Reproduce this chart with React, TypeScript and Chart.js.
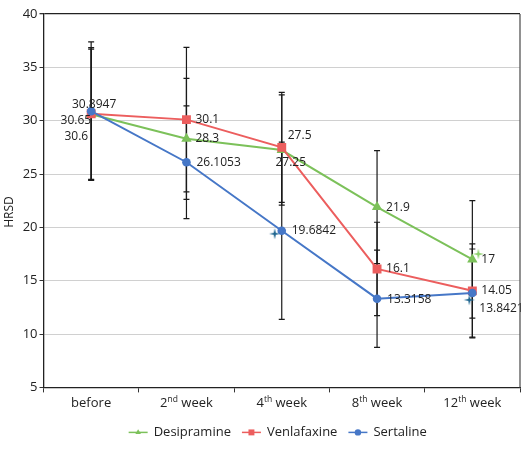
import React, { useEffect, useRef } from "react";
import { Chart } from "chart.js/auto";
import { drawPoint } from "chart.js/helpers";

const categories = ["before", "2nd week", "4th week", "8th week", "12th week"];
const desipramine = [30.6, 28.3, 27.25, 21.9, 17];
const venlafaxine = [30.65, 30.1, 27.5, 16.1, 14.05];
const sertaline = [30.8947, 26.1053, 19.6842, 13.3158, 13.8421];
const desipramineErr = [6.1, 5.67, 5.16, 5.29, 5.5];
const venlafaxineErr = [6.2, 6.78, 5.16, 4.38, 4.4];
const sertalineErr = [6.5, 5.28, 8.3, 4.56, 4.13];
// stray star markers left in the original figure
const strayTeal = [null, null, 19.4, null, 13.2];
const strayGreen = [null, null, null, null, 17.5];

const FONT = "'Open Sans', 'Noto Sans', sans-serif";
const GREEN = "#7CC15A";
const RED = "#EC5E5E";
const BLUE = "#4677C7";

// label placement per point: [dx, dy, align]
const desipLabelPos: [number, number, CanvasTextAlign][] = [
  [-3, 22, "right"], [9, 0, "left"], [9, 13, "center"], [9, 0, "left"], [9, 0, "left"],
];
const venlLabelPos: [number, number, CanvasTextAlign][] = [
  [0, 7, "right"], [9, 0, "left"], [6, -12, "left"], [9, 0, "left"], [9, 0, "left"],
];
const sertLabelPos: [number, number, CanvasTextAlign][] = [
  [3, -7, "center"], [10, 0, "left"], [10, 0, "left"], [10, 1, "left"], [7, 16, "left"],
];

function starImage(color: string, dx: number) {
  const c = document.createElement("canvas");
  c.width = 30;
  c.height = 30;
  const g = c.getContext("2d")!;
  const cx = 15 + dx, cy = 15;
  g.beginPath();
  for (let k = 0; k < 8; k++) {
    const a = (k * Math.PI) / 4 - Math.PI / 2;
    const r = k % 2 === 0 ? 5.6 : 1.5;
    g.lineTo(cx + r * Math.cos(a), cy + r * Math.sin(a));
  }
  g.closePath();
  g.fillStyle = color;
  g.fill();
  return c;
}

const App: React.FC = () => {
  const canvasRef = useRef<HTMLCanvasElement | null>(null);
  const chartRef = useRef<Chart | null>(null);

  useEffect(() => {
    document.body.style.margin = "0";
    const ctx = canvasRef.current?.getContext("2d");
    if (!ctx) return;
    if (chartRef.current) chartRef.current.destroy();

    const series = [
      { label: "Desipramine", data: desipramine, err: desipramineErr, color: GREEN, style: "triangle", pos: desipLabelPos },
      { label: "Venlafaxine", data: venlafaxine, err: venlafaxineErr, color: RED, style: "rect", pos: venlLabelPos },
      { label: "Sertaline", data: sertaline, err: sertalineErr, color: BLUE, style: "circle", pos: sertLabelPos },
    ];
    const radii: Record<string, number> = { triangle: 6, rect: 6.3, circle: 4.3 };

    const tealStars = [null, null, starImage("#1F6690", -7), null, starImage("#1F6690", -3)];
    const greenStars = [null, null, null, null, starImage("#8AD06A", 6)];

    const errorBars = {
      id: "errorBars",
      beforeDatasetsDraw(chart: any) {
        const xs = chart.scales.x, ys = chart.scales.y;
        const c = chart.ctx;
        c.save();
        c.strokeStyle = "#1a1a1a";
        c.lineWidth = 1.2;
        series.forEach((s) => {
          s.data.forEach((v, i) => {
            const x = xs.getPixelForValue(i);
            const t = ys.getPixelForValue(v + s.err[i]);
            const b = ys.getPixelForValue(v - s.err[i]);
            c.beginPath();
            c.moveTo(x, t); c.lineTo(x, b);
            c.moveTo(x - 3, t); c.lineTo(x + 3, t);
            c.moveTo(x - 3, b); c.lineTo(x + 3, b);
            c.stroke();
          });
        });
        c.restore();
      },
    };

    const decorations = {
      id: "decorations",
      afterDatasetsDraw(chart: any) {
        const xs = chart.scales.x, ys = chart.scales.y;
        const c = chart.ctx;
        c.save();
        c.font = `12px ${FONT}`;
        c.fillStyle = "#222";
        c.textBaseline = "middle";
        series.forEach((s) => {
          s.data.forEach((v, i) => {
            const [dx, dy, align] = s.pos[i];
            c.textAlign = align;
            c.fillText(String(v), xs.getPixelForValue(i) + dx, ys.getPixelForValue(v) + dy);
          });
        });
        c.restore();
      },
      afterDraw(chart: any) {
        const xs = chart.scales.x;
        const area = chart.chartArea;
        const c = chart.ctx;
        c.save();
        // right frame line
        c.strokeStyle = "#555";
        c.lineWidth = 1.3;
        c.beginPath();
        c.moveTo(area.right, area.top);
        c.lineTo(area.right, area.bottom);
        c.stroke();

        // y axis title
        c.save();
        c.translate(10, 212);
        c.rotate(-Math.PI / 2);
        c.font = `12px ${FONT}`;
        c.fillStyle = "#222";
        c.textAlign = "center";
        c.textBaseline = "middle";
        c.fillText("HRSD", 0, 0);
        c.restore();

        // category labels with superscript ordinals
        c.fillStyle = "#222";
        c.textBaseline = "alphabetic";
        c.textAlign = "left";
        const base = `13px ${FONT}`, sup = `8.5px ${FONT}`;
        categories.forEach((lab, i) => {
          const x = xs.getPixelForValue(i);
          const y = area.bottom + 20;
          const m = /^(\d+)(st|nd|rd|th)(.*)$/.exec(lab);
          if (!m) {
            c.font = base;
            const w = c.measureText(lab).width;
            c.fillText(lab, x - w / 2, y);
            return;
          }
          c.font = base;
          const w1 = c.measureText(m[1]).width;
          const w3 = c.measureText(m[3]).width;
          c.font = sup;
          const w2 = c.measureText(m[2]).width;
          let sx = x - (w1 + w2 + w3) / 2;
          c.font = base;
          c.fillText(m[1], sx, y);
          sx += w1;
          c.font = sup;
          c.fillText(m[2], sx, y - 5);
          sx += w2;
          c.font = base;
          c.fillText(m[3], sx, y);
        });

        // legend: line + marker + text
        c.font = `13px ${FONT}`;
        c.textBaseline = "middle";
        const lineW = 19, gap = 6, itemGap = 11;
        const widths = series.map((s) => lineW + gap + c.measureText(s.label).width);
        const total = widths.reduce((a, b) => a + b, 0) + itemGap * (series.length - 1);
        let lx = (area.left + area.right) / 2 - 4 - total / 2;
        const ly = area.bottom + 45;
        series.forEach((s, k) => {
          c.strokeStyle = s.color;
          c.fillStyle = s.color;
          c.lineWidth = 1.5;
          c.beginPath();
          c.moveTo(lx, ly);
          c.lineTo(lx + lineW, ly);
          c.stroke();
          drawPoint(c, { pointStyle: s.style as any, radius: s.style === "rect" ? 4.2 : 3.2, rotation: 0, borderWidth: 0 }, lx + lineW / 2, ly);
          c.fillStyle = "#222";
          c.fillText(s.label, lx + lineW + gap, ly);
          lx += widths[k] + itemGap;
        });
        c.restore();
      },
    };

    chartRef.current = new Chart(ctx, {
      type: "line",
      data: {
        labels: categories,
        datasets: [
          ...series.map((s, k) => ({
            label: s.label,
            data: s.data,
            borderColor: s.color,
            backgroundColor: s.color,
            borderWidth: 2,
            pointStyle: s.style as any,
            pointRadius: radii[s.style],
            pointBorderWidth: 0,
            order: 3 - k,
          })),
          {
            label: "strayTeal",
            data: strayTeal,
            showLine: false,
            pointStyle: tealStars as any,
            pointRadius: 3,
            order: 0,
          },
          {
            label: "strayGreen",
            data: strayGreen,
            showLine: false,
            pointStyle: greenStars as any,
            pointRadius: 3,
            order: 0,
          },
        ],
      },
      options: {
        animation: false,
        responsive: false,
        layout: { padding: { top: 14, right: 8, left: 0, bottom: 0 } },
        plugins: { legend: { display: false }, tooltip: { enabled: false } },
        scales: {
          x: {
            offset: true,
            grid: { offset: true, drawOnChartArea: false, tickLength: 5, color: "#333" },
            border: { color: "#222", width: 1.3 },
            ticks: { color: "rgba(0,0,0,0)" },
            afterFit: (s: any) => { s.height = 61.6; },
          },
          y: {
            min: 5,
            max: 40,
            ticks: { stepSize: 5, color: "#222", font: { family: FONT, size: 13 }, padding: 2 },
            grid: {
              color: (c: any) => (c.tick && c.tick.value === 40 ? "#222" : "#d0d0d0"),
              lineWidth: (c: any) => (c.tick && c.tick.value === 40 ? 1.3 : 1),
              tickColor: "#333",
              tickLength: 4,
            },
            border: { color: "#222", width: 1.3 },
            title: { display: false },
            afterFit: (s: any) => { s.width = 43.5; },
          },
        },
      },
      plugins: [errorBars, decorations],
    });

    return () => {
      if (chartRef.current) {
        chartRef.current.destroy();
        chartRef.current = null;
      }
    };
  }, []);

  return (
    <div style={{ width: 528, height: 449 }}>
      <canvas ref={canvasRef} width={528} height={449}></canvas>
    </div>
  );
};

export default App;
